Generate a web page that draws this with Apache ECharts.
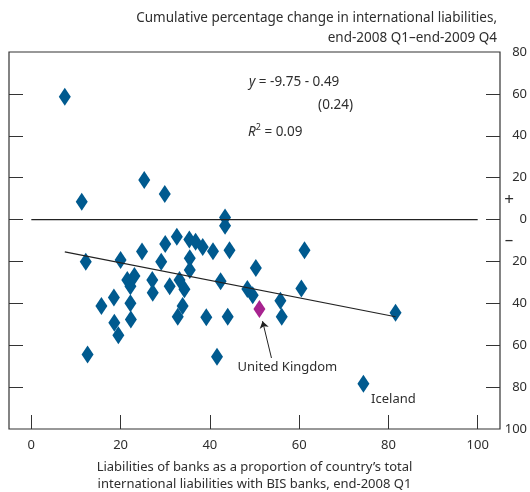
<!DOCTYPE html>
<html>
<head>
<meta charset="utf-8">
<script src="https://cdn.jsdelivr.net/npm/echarts@6/dist/echarts.min.js"></script>
<style>
  html, body { margin: 0; padding: 0; background: #fff; }
  #chart { width: 530px; height: 492px; }
</style>
</head>
<body>
<div id="chart"></div>
<script>
// Liabilities of banks as % of country's total international liabilities with BIS banks (x)
const bankShare = [
  7.5, 11.3, 25.3, 29.9, 43.4, 43.4, 32.6, 30.0, 35.4, 36.8,
  38.4, 40.7, 44.4, 24.8, 12.2, 20.0, 29.1, 35.5, 35.5, 50.3,
  21.5, 23.1, 22.2, 27.1, 27.2, 31.0, 33.2, 34.3, 42.4, 48.4,
  49.6, 15.7, 18.5, 22.2, 33.9, 32.8, 18.6, 22.3, 39.2, 44.0,
  19.5, 12.6, 41.6, 61.2, 60.5, 55.8, 56.1, 81.6
];
// Cumulative % change in international liabilities (y)
const liabChange = [
  58.6, 8.5, 18.9, 12.2, 1.0, -3.0, -8.2, -11.7, -9.5, -10.6,
  -13.1, -15.1, -14.6, -15.2, -20.1, -19.3, -20.1, -18.5, -24.1, -23.1,
  -28.9, -27.0, -31.8, -28.9, -35.0, -31.8, -28.9, -33.3, -29.5, -33.1,
  -36.2, -41.3, -37.2, -40.0, -41.3, -46.4, -49.3, -47.7, -46.6, -46.4,
  -55.2, -64.4, -65.5, -14.6, -32.9, -38.8, -46.4, -44.5
];
const ukPoint = [51.1, -42.7];
const icelandPoint = [74.4, -78.4];
const fitLine = [[7.5, -15.4], [81.6, -46.4]];
const zeroLine = [[0, 0], [100, 0]];
const ukArrow = [[53.8, -66.1], [51.8, -48.5]];

const xTicks = [0, 20, 40, 60, 80, 100];
const yTicks = [-80, -60, -40, -20, 0, 20, 40, 60];

const FONT = 'Noto Sans, sans-serif';
const TEXT = '#2e2e2e';
const BLUE = '#005a8f';
const PINK = '#a7238f';

const chart = echarts.init(document.getElementById('chart'));

const points = bankShare.map((x, i) => [x, liabChange[i]]);

const option = {
  animation: false,
  textStyle: { fontFamily: FONT },
  grid: {
    left: 9, right: 30, top: 52, bottom: 63,
    outerBoundsMode: 'none',
    show: true, borderColor: '#333', borderWidth: 1.2,
  },
  xAxis: {
    type: 'value', min: -5, max: 105,
    splitLine: { show: false },
    axisLine: { show: false, onZero: false },
    axisTick: { inside: true, length: 14, customValues: xTicks, lineStyle: { color: '#333' } },
    axisLabel: { customValues: xTicks, margin: 10, fontSize: 13, color: TEXT },
    name: 'Liabilities of banks as a proportion of country’s total\ninternational liabilities with BIS banks, end-2008 Q1',
    nameLocation: 'middle',
    nameGap: 30,
    nameTextStyle: { fontSize: 13, color: TEXT, lineHeight: 17 },
  },
  yAxis: [
    {
      type: 'value', position: 'right', min: -100, max: 80, interval: 20,
      splitLine: { show: false },
      axisLine: { show: false, onZero: false },
      axisTick: { inside: true, length: 14, customValues: yTicks, lineStyle: { color: '#333' } },
      axisLabel: {
        margin: 27, align: 'right', fontSize: 13, color: TEXT,
        formatter: v => Math.abs(v),
      },
    },
    {
      type: 'value', position: 'left', min: -100, max: 80, interval: 20,
      splitLine: { show: false },
      axisLine: { show: false, onZero: false },
      axisTick: { inside: true, length: 14, customValues: yTicks, lineStyle: { color: '#333' } },
      axisLabel: { show: false },
    },
  ],
  graphic: [
    {
      type: 'text', x: 497, y: 8,
      style: {
        text: 'Cumulative percentage change in international liabilities,\nend-2008 Q1–end-2009 Q4',
        align: 'right', font: '13.5px ' + FONT, lineHeight: 20, fill: TEXT,
      },
    },
    {
      type: 'text', x: 249, y: 82,
      style: {
        text: '{i|y} = -9.75 - 0.49', verticalAlign: 'middle',
        font: '13.5px ' + FONT, fill: TEXT,
        rich: { i: { fontStyle: 'italic', fontSize: 13.5, fontFamily: FONT, fill: TEXT } },
      },
    },
    {
      type: 'text', x: 353, y: 105,
      style: { text: '(0.24)', align: 'right', verticalAlign: 'middle', font: '13.5px ' + FONT, fill: TEXT },
    },
    {
      type: 'text', x: 248, y: 132,
      style: {
        text: '{i|R}{s|2} = 0.09', verticalAlign: 'middle',
        font: '13.5px ' + FONT, fill: TEXT,
        rich: {
          i: { fontStyle: 'italic', fontSize: 13.5, fontFamily: FONT, fill: TEXT },
          s: { fontSize: 9, fontFamily: FONT, fill: TEXT, verticalAlign: 'top', padding: [0, 0, 10, 0] },
        },
      },
    },
    { type: 'text', x: 509, y: 200, style: { text: '+', align: 'center', verticalAlign: 'middle', font: '17px ' + FONT, fill: TEXT } },
    { type: 'text', x: 509, y: 240, style: { text: '–', align: 'center', verticalAlign: 'middle', font: '17px ' + FONT, fill: TEXT } },
  ],
  series: [
    {
      type: 'line', data: zeroLine, symbol: 'none', silent: true,
      lineStyle: { color: '#222', width: 1.2 },
    },
    {
      type: 'line', data: fitLine, symbol: 'none', silent: true,
      lineStyle: { color: '#222', width: 1.2 },
    },
    {
      type: 'scatter', data: points, symbol: 'diamond', symbolSize: [12, 18],
      itemStyle: { color: BLUE, opacity: 1 },
    },
    {
      type: 'scatter', symbol: 'diamond', symbolSize: [12, 18],
      itemStyle: { color: BLUE, opacity: 1 },
      data: [{
        value: icelandPoint,
        label: { show: true, formatter: 'Iceland', position: 'inside', offset: [30, 16], fontSize: 13, color: TEXT },
      }],
    },
    {
      type: 'scatter', symbol: 'diamond', symbolSize: [12, 18],
      itemStyle: { color: PINK, opacity: 1 },
      data: [{
        value: ukPoint,
        label: { show: true, formatter: 'United Kingdom', position: 'inside', offset: [28, 58], fontSize: 13, color: TEXT },
      }],
      markLine: {
        silent: true, symbol: ['none', 'arrow'], symbolSize: 7,
        label: { show: false },
        lineStyle: { color: '#222', width: 1, type: 'solid' },
        data: [[{ coord: ukArrow[0] }, { coord: ukArrow[1] }]],
      },
    },
  ],
};

chart.setOption(option);
</script>
</body>
</html>
